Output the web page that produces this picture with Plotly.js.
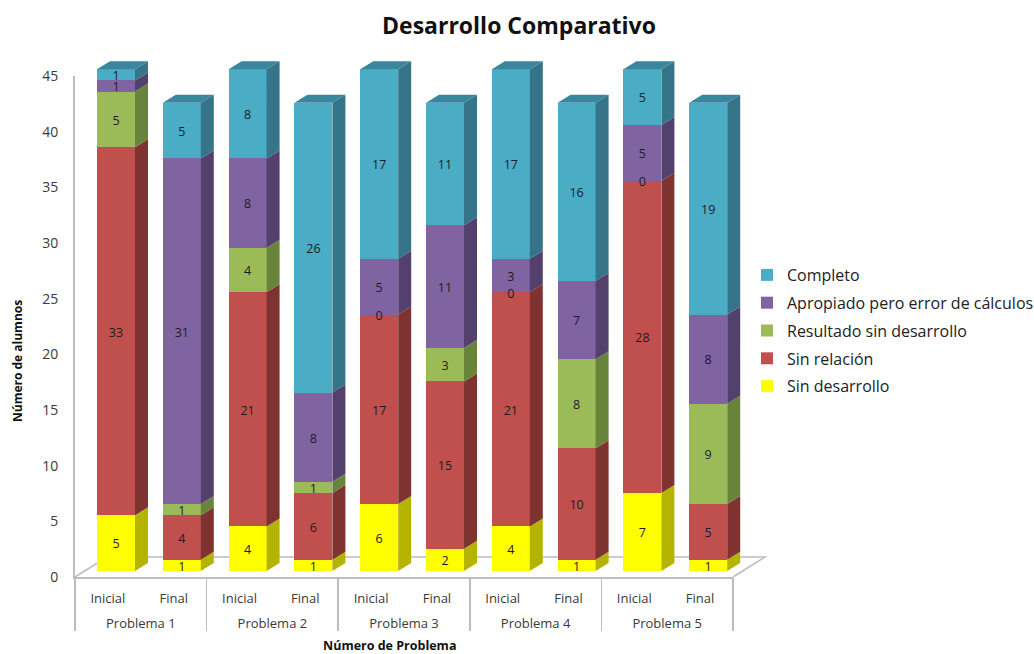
<!DOCTYPE html>
<html>
<head>
<meta charset="utf-8">
<script src="https://cdn.plot.ly/plotly-3.0.1.min.js"></script>
<style>html,body{margin:0;padding:0;background:#fff}</style>
</head>
<body>
<div id="chart" style="width:1034px;height:654px"></div>
<script>
// Results per problem, before and after the intervention
const problems = ["Problema 1","Problema 2","Problema 3","Problema 4","Problema 5"];
const stages = ["Inicial","Final","Inicial","Final","Inicial","Final","Inicial","Final","Inicial","Final"];
const sinDesarrollo = [5,1,4,1,6,2,4,1,7,1];
const sinRelacion = [33,4,21,6,17,15,21,10,28,5];
const resultadoSinDesarrollo = [5,1,4,1,0,3,0,8,0,9];
const apropiado = [1,31,8,8,5,11,3,7,5,8];
const completo = [1,5,8,26,17,11,17,16,5,19];
const yTicks = [0,5,10,15,20,25,30,35,40,45];

const W = 1034, H = 654;
// Pixel frame of the bar plane: one category step and one student in px
const stepPx = 65.8, unitPx = 11.15, firstCenterPx = 116, zeroPx = 571;
const barWidth = 38 / stepPx;
const depthX = 13 / stepPx, depthY = 8 / unitPx;
const labelDrop = 2.2 / unitPx;
const pxToX = p => (p - firstCenterPx) / stepPx;
const pxToY = p => (zeroPx - p) / unitPx;

const series = [
  {name:"Sin desarrollo", values:sinDesarrollo, front:"#FFFF00", side:"#B4B400", rank:5},
  {name:"Sin relación", values:sinRelacion, front:"#C0504D", side:"#7F3330", rank:4},
  {name:"Resultado sin desarrollo", values:resultadoSinDesarrollo, front:"#9BBB59", side:"#68833A", rank:3},
  {name:"Apropiado pero error de cálculos", values:apropiado, front:"#8064A2", side:"#54406C", rank:2},
  {name:"Completo", values:completo, front:"#4BACC6", side:"#357489", rank:1}
];
const positions = stages.map((_, i) => i);

const traces = [];
const running = positions.map(() => 0);
const labelTraces = [];
series.forEach(s => {
  const base = running.slice();
  traces.push({
    type:"bar", name:s.name, x:positions, y:s.values, width:barWidth,
    legendgroup:s.name, legendrank:s.rank, marker:{color:s.front, line:{width:0}}, hoverinfo:"y+name"
  });
  // Extruded right-hand face of each segment
  const sx = [], sy = [];
  positions.forEach((p, i) => {
    const xr = p + barWidth / 2, y0 = base[i], y1 = base[i] + s.values[i];
    sx.push(xr, xr + depthX, xr + depthX, xr, xr, null);
    sy.push(y0, y0 + depthY, y1 + depthY, y1, y0, null);
    running[i] = y1;
  });
  traces.push({
    type:"scatter", mode:"lines", x:sx, y:sy, fill:"toself", fillcolor:s.side,
    line:{width:0, color:s.side}, showlegend:false, legendgroup:s.name, legendrank:s.rank, hoverinfo:"skip"
  });
  labelTraces.push({
    type:"scatter", mode:"text", x:positions,
    y:s.values.map((v, i) => base[i] + v / 2 - labelDrop),
    text:s.values.map(String), textposition:"middle center",
    textfont:{family:"Open Sans", size:12.5, color:"#1c1c28"},
    showlegend:false, legendgroup:s.name, legendrank:s.rank, hoverinfo:"skip"
  });
});

// Top cap of every column
const capX = [], capY = [];
positions.forEach((p, i) => {
  const l = p - barWidth / 2, r = p + barWidth / 2, t = running[i];
  capX.push(l, l + depthX, r + depthX, r, l, null);
  capY.push(t, t + depthY, t + depthY, t, t, null);
});
traces.push({
  type:"scatter", mode:"lines", x:capX, y:capY, fill:"toself", fillcolor:"#3A869D",
  line:{width:0, color:"#3A869D"}, showlegend:false, hoverinfo:"skip"
});
traces.push(...labelTraces);

// Empty traces that keep the visible axes attached to the plot
const groupCenters = problems.map((_, i) => 2 * i + 0.5);
const groupEdges = [-0.5, ...problems.map((_, i) => 2 * i + 1.5)];
["x2","x3","x4"].forEach(ax => traces.push({
  type:"scatter", mode:"markers", x:[null], y:[null], xaxis:ax, yaxis:"y2",
  showlegend:false, hoverinfo:"skip"
}));

const axisGrey = "#BDBDBD";
const clear = "rgba(0,0,0,0)";
const catFont = {family:"Open Sans", size:13, color:"#3a3a3a"};
const lowerDomain = [75/W, 733/W];

// Floor of the plot, drawn behind the columns
const floorShape = {
  type:"path", layer:"below", xref:"x", yref:"y",
  path:`M${pxToX(75)},${pxToY(577)} L${pxToX(107)},${pxToY(557)} L${pxToX(765)},${pxToY(557)} L${pxToX(733)},${pxToY(577)}`,
  line:{color:axisGrey, width:1.5}
};

const layout = {
  width:W, height:H, autosize:false,
  margin:{l:0, r:0, t:0, b:0, autoexpand:false},
  paper_bgcolor:"#fff", plot_bgcolor:clear,
  barmode:"stack", bargap:0,
  title:{text:"<b>Desarrollo Comparativo</b>", x:519/W, xanchor:"center", y:1-26/H, yanchor:"middle",
         font:{family:"Open Sans", size:23, color:"#111"}},
  xaxis:{visible:false, domain:[0,1], range:[pxToX(0), pxToX(W)], fixedrange:true},
  yaxis:{visible:false, domain:[0,1], range:[pxToY(H), pxToY(0)], fixedrange:true},
  // Stage labels under each column
  xaxis2:{
    domain:lowerDomain, anchor:"y2", range:[-0.5,9.5], tickmode:"array",
    tickvals:positions, ticktext:stages, tickangle:0,
    showline:true, linecolor:axisGrey, linewidth:2, showgrid:false, zeroline:false,
    ticks:"outside", ticklen:8, tickcolor:clear, tickfont:catFont, fixedrange:true
  },
  // Separators between problem groups
  xaxis3:{
    domain:lowerDomain, anchor:"y2", overlaying:"x2", range:[-0.5,9.5], tickmode:"array",
    tickvals:groupEdges, ticktext:groupEdges.map(() => ""), showgrid:false, zeroline:false,
    ticks:"outside", ticklen:53, tickwidth:1.5, tickcolor:axisGrey, fixedrange:true
  },
  // Problem names on the second label row
  xaxis4:{
    domain:lowerDomain, anchor:"y2", overlaying:"x2", range:[-0.5,9.5], tickmode:"array",
    tickvals:groupCenters, ticktext:problems, tickangle:0, showgrid:false, zeroline:false,
    ticks:"outside", ticklen:34, tickcolor:clear, tickfont:catFont, fixedrange:true
  },
  yaxis2:{
    domain:[(H-577)/H, (H-76)/H], range:[0,45], anchor:"x2", tickmode:"array",
    tickvals:yTicks, ticktext:yTicks.map(String),
    showline:true, linecolor:axisGrey, linewidth:2, showgrid:false, zeroline:false,
    ticks:"outside", ticklen:12, tickcolor:clear,
    tickfont:{family:"Open Sans", size:14, color:"#3a3a3a"}, fixedrange:true
  },
  legend:{
    x:747/W, xanchor:"left", y:1-258/H, yanchor:"top",
    traceorder:"grouped", tracegroupgap:4,
    font:{family:"Open Sans", size:16, color:"#222"}, bgcolor:clear
  },
  shapes:[floorShape],
  annotations:[
    {xref:"paper", yref:"paper", x:389/W, y:1-645.5/H, xanchor:"center", yanchor:"middle", showarrow:false,
     text:"<b>Número de Problema</b>", font:{family:"Open Sans", size:12.5, color:"#111"}},
    {xref:"paper", yref:"paper", x:17/W, y:1-361/H, xanchor:"center", yanchor:"middle", showarrow:false, textangle:-90,
     text:"<b>Número de alumnos</b>", font:{family:"Open Sans", size:12, color:"#111"}}
  ]
};

Plotly.newPlot("chart", traces, layout, {displayModeBar:false, staticPlot:true});
</script>
</body>
</html>
